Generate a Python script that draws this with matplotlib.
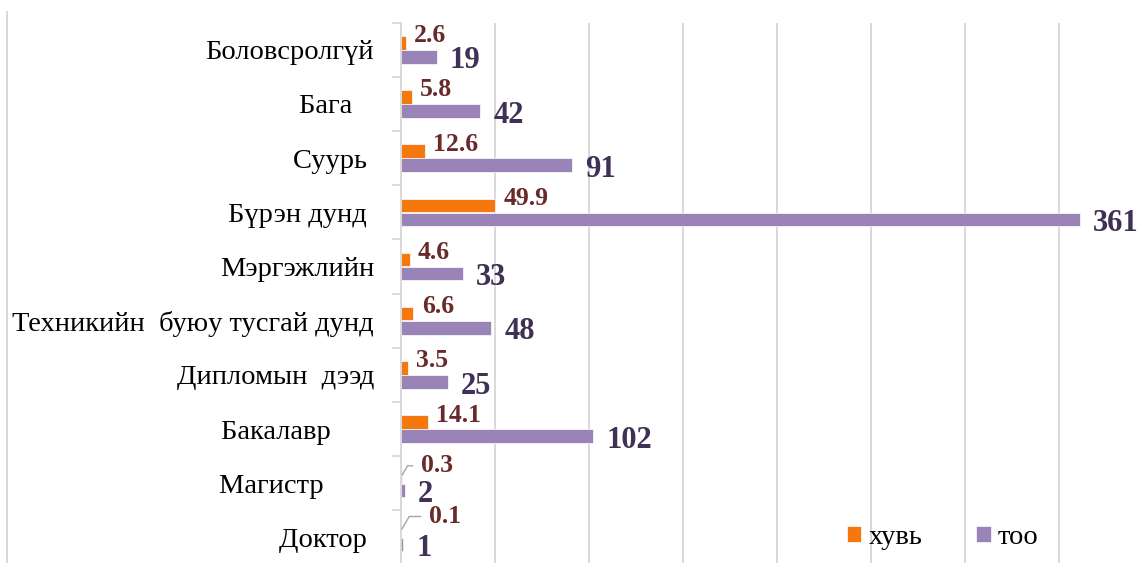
import numpy as np
import matplotlib
matplotlib.use("Agg")
import matplotlib.pyplot as plt
from matplotlib.lines import Line2D

plt.rcParams['font.family'] = ['Liberation Serif', 'DejaVu Serif']

# data (top to bottom)
categories = ["Боловсролгүй", "Бага   ", "Суурь ", "Бүрэн дунд ", "Мэргэжлийн",
              "Техникийн  буюу тусгай дунд", "Дипломын  дээд", "Бакалавр      ",
              "Магистр       ", "Доктор "]
huvi = [2.6, 5.8, 12.6, 49.9, 4.6, 6.6, 3.5, 14.1, 0.3, 0.1]
too = [19, 42, 91, 361, 33, 48, 25, 102, 2, 1]

c_orange = '#F5780F'
c_purple = '#9A83B6'
c_lbl_orange = '#6B2A2A'
c_lbl_purple = '#3F3055'
c_grid = '#D9D9D9'

fig = plt.figure(figsize=(11.47, 5.63), dpi=100)
ax = fig.add_axes([401/1147, -0.0027, 746/1147, 0.9624])

y = np.arange(len(categories))
h = 0.25
b1 = ax.barh(y - 0.13, huvi, height=h, color=c_orange, edgecolor='white', linewidth=0.5, label='хувь')
b2 = ax.barh(y + 0.13, too, height=h, color=c_purple, edgecolor='white', linewidth=0.5, label='тоо')

# value labels
leader = {8: (14, 7.5), 9: (20, 10)}
for i, v in enumerate(huvi):
    if i in leader:
        ax.annotate(str(v), xy=(v, y[i] - 0.13), xytext=leader[i], textcoords='offset points',
                    ha='left', va='center', fontsize=18.5, fontweight='bold', color=c_lbl_orange,
                    arrowprops=dict(arrowstyle='-', color='#A6A6A6', lw=1,
                                    connectionstyle='angle,angleA=0,angleB=60,rad=0',
                                    shrinkA=4, shrinkB=1))
    else:
        ax.annotate(str(v), xy=(v, y[i] - 0.13), xytext=(6, 5), textcoords='offset points',
                    ha='left', va='center', fontsize=18.5, fontweight='bold', color=c_lbl_orange)
for i, v in enumerate(too):
    ax.annotate(str(v), xy=(v, y[i] + 0.13), xytext=(9.5, -3), textcoords='offset points',
                ha='left', va='center', fontsize=22, fontweight='bold', color=c_lbl_purple)

ax.set_xlim(0, 396.6)
ax.set_ylim(9.5, -0.5)
ax.set_xticks(np.arange(0, 400, 50))
ax.set_xticklabels([])
ax.grid(axis='x', color=c_grid, linewidth=1.4)
ax.set_axisbelow(True)
ax.tick_params(axis='x', length=0)

ax.set_yticks(y)
ax.set_yticklabels(categories, fontsize=20.5)
ax.tick_params(axis='y', length=0, pad=19.5)
ax.set_yticks(np.arange(-0.5, 9.6, 1), minor=True)
ax.tick_params(axis='y', which='minor', length=6.5, width=1.3, color=c_grid)

for s in ['top', 'right', 'bottom']:
    ax.spines[s].set_visible(False)
ax.spines['left'].set_color(c_grid)
ax.spines['left'].set_linewidth(1.4)

fig.legend(handles=[b1, b2], loc='center left', bbox_to_anchor=(847/1147, 0.045),
           ncol=2, frameon=False, fontsize=20.5, borderpad=0, borderaxespad=0,
           handlelength=0.5, handleheight=0.5, handletextpad=0.25, columnspacing=1.9)

# chart area border (left edge only visible)
fig.add_artist(Line2D([7/1147, 7/1147], [0, 1 - 12/563], transform=fig.transFigure,
                      color=c_grid, linewidth=1.4))

fig.savefig('out.png', dpi=100)
